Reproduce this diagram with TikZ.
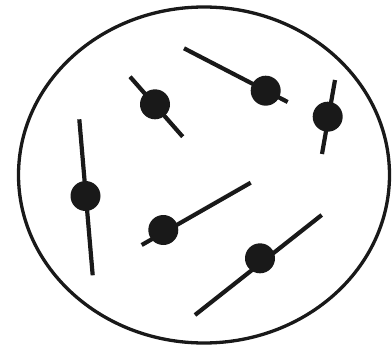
\documentclass[tikz,border=0pt]{standalone}
\usetikzlibrary{shapes.geometric}
\begin{document}
\begin{tikzpicture}[x=1pt,y=-1pt,
  stick/.style={line width=4.2pt,line cap=butt,draw=black!90},
  ball/.style={circle,fill=black!90,minimum size=30pt,inner sep=0pt},
  rim/.style={line width=3.3pt,draw=black!90}]
\useasboundingbox (0,0) rectangle (392,351);
\node[rim,ellipse,minimum width=371pt,minimum height=336pt,inner sep=0pt] (cell) at (204,175) {};
% dipole 1
\coordinate (a1) at (79.3,119.3); \coordinate (b1) at (92.7,275.3);
\draw[stick] (a1) -- (b1);
\node[ball] (d1) at (85.5,196) {};
% dipole 2
\coordinate (a2) at (130,76.7); \coordinate (b2) at (182.7,136.7);
\draw[stick] (a2) -- (b2);
\node[ball] (d2) at (155,104.3) {};
% dipole 3
\coordinate (a3) at (184,48.3); \coordinate (b3) at (287.7,102);
\draw[stick] (a3) -- (b3);
\node[ball] (d3) at (265.7,90.7) {};
% dipole 4
\coordinate (a4) at (335,80); \coordinate (b4) at (322,154);
\draw[stick] (a4) -- (b4);
\node[ball] (d4) at (327.7,116.7) {};
% dipole 5
\coordinate (a5) at (141.7,245); \coordinate (b5) at (250.7,182.7);
\draw[stick] (a5) -- (b5);
\node[ball] (d5) at (163.3,230) {};
% dipole 6
\coordinate (a6) at (195,315); \coordinate (b6) at (321.7,215);
\draw[stick] (a6) -- (b6);
\node[ball] (d6) at (260,258.3) {};
\end{tikzpicture}
\end{document}
